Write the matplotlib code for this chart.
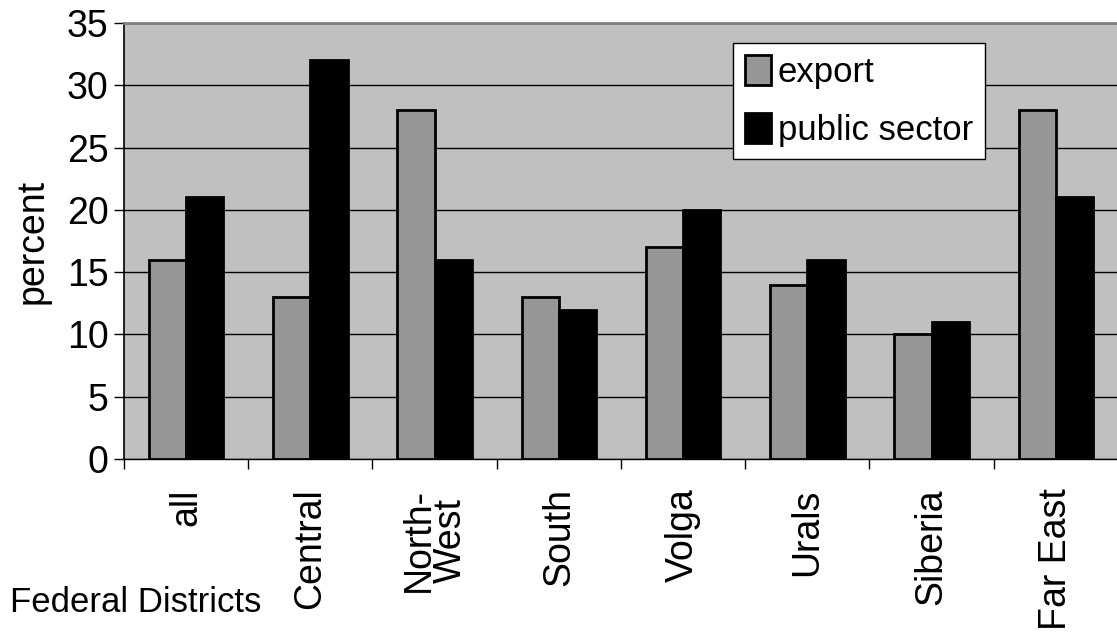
import numpy as np
import matplotlib.pyplot as plt
from matplotlib.ticker import FixedLocator

districts = ["all", "Central", "North-\nWest", "South", "Volga", "Urals", "Siberia", "Far East"]
export = [16, 13, 28, 13, 17, 14, 10, 28]
public_sector = [21, 32, 16, 12, 20, 16, 11, 21]

plt.rcParams['font.family'] = ['Liberation Sans', 'DejaVu Sans']

fig = plt.figure(figsize=(11.17, 6.39), dpi=100)
ax = fig.add_axes([124 / 1117, 1 - 459 / 639, (1117 - 124) / 1117 * 1.001, (459 - 23) / 639])

x = np.arange(len(districts))
w = 0.3
ax.bar(x - w / 2, export, w, color='#969696', edgecolor='black', linewidth=2, label='export', zorder=3)
ax.bar(x + w / 2, public_sector, w, color='black', edgecolor='black', linewidth=2, label='public sector', zorder=3)

ax.set_facecolor('#c0c0c0')
ax.set_xlim(-0.5, len(districts) - 0.5)
ax.set_ylim(0, 35)
ax.set_yticks(range(0, 36, 5))
ax.yaxis.grid(True, color='black', linewidth=1, zorder=1)
ax.set_axisbelow(True)

ax.set_xticks(x)
ax.set_xticklabels(districts, rotation=90, fontsize=27, linespacing=0.85)
ax.tick_params(axis='x', length=0, pad=21)
ax.xaxis.set_minor_locator(FixedLocator(np.arange(-0.5, len(districts), 1)))
ax.tick_params(axis='x', which='minor', length=7, direction='out', width=1)
ax.tick_params(axis='y', labelsize=27, length=7, width=1, pad=4)

ax.spines['top'].set_color('#808080')
ax.spines['top'].set_linewidth(2)
ax.spines['right'].set_visible(False)
ax.spines['left'].set_linewidth(1.2)
ax.spines['bottom'].set_linewidth(1)

ax.set_ylabel('percent', fontsize=27, labelpad=12)
fig.text(10 / 1117, 1 - 602 / 639, 'Federal Districts', fontsize=25, va='center', ha='left')

leg = ax.legend(loc='upper left', bbox_to_anchor=((732 - 124) / 993, 1 - (43 - 23) / 436),
                fontsize=25, frameon=True, fancybox=False, framealpha=1,
                edgecolor='black', handlelength=0.75, handleheight=0.95, handletextpad=0.2,
                borderpad=0.35, labelspacing=0.7, borderaxespad=0)
leg.get_frame().set_linewidth(1)

fig.savefig('out.png', dpi=100)
